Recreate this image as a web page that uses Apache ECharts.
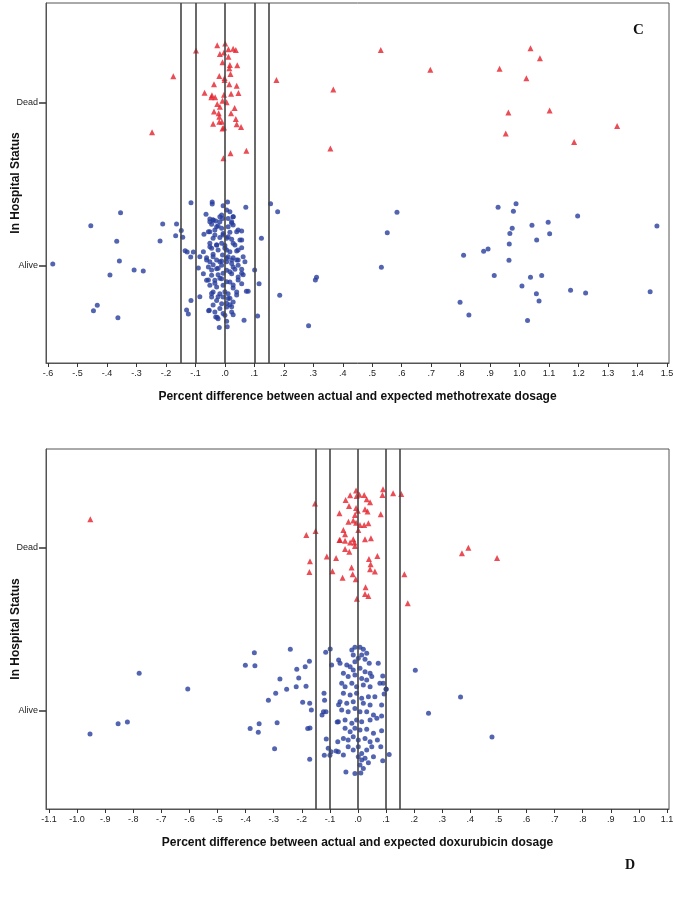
<!DOCTYPE html>
<html><head><meta charset="utf-8">
<script src="https://cdn.jsdelivr.net/npm/echarts@6/dist/echarts.min.js"></script>
<style>html,body{margin:0;padding:0;background:#fff}#c{width:674px;height:900px}</style>
</head><body><div id="c"></div>
<script>
// y values: Alive = 0, Dead = 1, plus the plotted vertical jitter
const categories = ['Alive', 'Dead'];
const topTicks = [-0.6,-0.5,-0.4,-0.3,-0.2,-0.1,0,0.1,0.2,0.3,0.4,0.5,0.6,0.7,0.8,0.9,1.0,1.1,1.2,1.3,1.4,1.5];
const bottomTicks = [-1.1,-1.0,-0.9,-0.8,-0.7,-0.6,-0.5,-0.4,-0.3,-0.2,-0.1,0,0.1,0.2,0.3,0.4,0.5,0.6,0.7,0.8,0.9,1.0,1.1];
const refLines = [-0.15,-0.1,0,0.1,0.15];
const topXTitle = 'Percent difference between actual and expected methotrexate dosage';
const bottomXTitle = 'Percent difference between actual and expected doxurubicin dosage';
const yTitle = 'In Hospital Status';

const topDead = [[-0.026,1.354],[0.001,1.364],[-0.098,1.321],[-0.017,1.30],[-0.003,1.31],[0.012,1.33],[0.028,1.333],[0.037,1.325],[0.012,1.284],[-0.008,1.25],[0.017,1.233],[0.042,1.231],[0.015,1.213],[0.019,1.178],[-0.019,1.166],[-0.001,1.153],[-0.001,1.141],[-0.175,1.164],[0.175,1.141],[0.368,1.082],[-0.037,1.115],[0.015,1.115],[0.040,1.106],[-0.069,1.063],[-0.044,1.047],[-0.046,1.035],[-0.033,1.035],[-0.003,1.051],[0.021,1.057],[0.046,1.061],[-0.008,1.014],[0.006,1.004],[-0.026,0.994],[-0.017,0.977],[0.033,0.969],[-0.037,0.947],[-0.021,0.937],[0.021,0.937],[-0.019,0.916],[0.037,0.902],[-0.019,0.885],[-0.010,0.885],[-0.040,0.873],[0.040,0.869],[-0.003,0.849],[0.055,0.853],[-0.008,0.843],[-0.247,0.820],[0.358,0.720],[0.073,0.707],[0.019,0.691],[-0.005,0.661],[0.529,1.325],[0.697,1.204],[0.932,1.209],[1.037,1.336],[1.069,1.274],[1.023,1.151],[0.962,0.941],[1.102,0.953],[1.331,0.859],[0.953,0.812],[1.185,0.761]];

const topAlive = [[-0.115,0.388],[-0.043,0.393],[-0.043,0.380],[0.009,0.393],[0.071,0.360],[0.155,0.382],[0.179,0.333],[-0.354,0.327],[-0.455,0.247],[-0.211,0.258],[-0.164,0.258],[-0.148,0.217],[-0.167,0.186],[-0.143,0.176],[-0.220,0.153],[-0.367,0.151],[0.124,0.170],[-0.135,0.094],[-0.128,0.086],[-0.107,0.086],[-0.116,0.055],[-0.358,0.031],[-0.584,0.012],[-0.308,-0.025],[-0.277,-0.031],[-0.390,-0.055],[0.101,-0.025],[0.116,-0.109],[0.311,-0.069],[0.307,-0.086],[0.186,-0.180],[-0.085,-0.188],[-0.115,-0.211],[-0.433,-0.241],[-0.446,-0.274],[-0.130,-0.270],[-0.124,-0.294],[-0.363,-0.317],[-0.055,-0.274],[0.065,-0.333],[0.111,-0.307],[0.284,-0.366],[-0.019,-0.378],[0.008,-0.372],[-0.026,-0.315],
[0.584,0.329],[0.551,0.204],[0.531,-0.008],[0.927,0.360],[0.988,0.382],[0.979,0.335],[1.197,0.307],[1.466,0.245],[1.097,0.268],[1.042,0.250],[0.975,0.231],[0.967,0.200],[1.102,0.198],[1.058,0.160],[0.965,0.135],[0.893,0.104],[0.878,0.090],[0.810,0.066],[0.964,0.035],[0.914,-0.059],[1.037,-0.069],[1.075,-0.059],[1.008,-0.123],[1.057,-0.170],[1.066,-0.215],[1.173,-0.149],[1.224,-0.166],[1.443,-0.158],[0.798,-0.223],[0.828,-0.301],[1.027,-0.335],
[-0.006,0.370],[0.006,0.344],[0.017,0.333],[-0.064,0.317],[-0.011,0.313],[0.028,0.302],[-0.051,0.288],[-0.040,0.282],[-0.031,0.276],[-0.017,0.272],[-0.008,0.292],[0.023,0.272],[-0.045,0.256],[-0.023,0.247],[0.011,0.241],[0.028,0.252],[-0.011,0.231],[-0.034,0.221],[-0.051,0.210],[0.045,0.221],[0.057,0.215],[0.017,0.207],[-0.071,0.194],[-0.006,0.190],[-0.017,0.174],[-0.040,0.170],[0.006,0.170],[0.023,0.164],[0.057,0.160],[-0.051,0.139],[-0.028,0.129],[-0.011,0.139],[0.000,0.125],[0.034,0.129],[0.057,0.112],[-0.045,0.109],[-0.023,0.098],[0.006,0.098],[-0.073,0.088],[0.017,0.088],[0.040,0.092],[-0.040,0.072],[-0.008,0.067],[-0.085,0.057],[-0.062,0.051],[0.011,0.057],[0.028,0.051],[0.062,0.057],[-0.028,0.037],[-0.011,0.031],[-0.051,0.026],[0.045,0.037],[0.068,0.026],[0.006,0.026],[0.023,0.037],
[-0.090,-0.012],[-0.056,-0.006],[-0.040,0.008],[-0.028,-0.017],[-0.011,0.004],[0.006,-0.026],[0.028,-0.006],[0.045,0.004],[0.057,-0.020],[-0.073,-0.047],[-0.045,-0.057],[-0.023,-0.053],[0.023,-0.047],[0.045,-0.067],[0.062,-0.053],[-0.062,-0.088],[-0.034,-0.088],[-0.011,-0.078],[0.017,-0.098],[0.057,-0.109],[-0.051,-0.118],[-0.028,-0.129],[-0.006,-0.118],[0.028,-0.135],[0.073,-0.155],[0.040,-0.160],[-0.040,-0.160],[-0.017,-0.170],[0.011,-0.170],[-0.045,-0.190],[-0.006,-0.190],[-0.028,-0.211],[0.011,-0.200],[0.028,-0.221],[0.017,-0.237],[-0.011,-0.231],[0.006,-0.252],[0.079,-0.155],[-0.053,-0.272],[-0.034,-0.282],[0.023,-0.282],[-0.006,-0.292],[0.028,-0.299],[-0.031,-0.313],[-0.023,-0.323],[0.000,-0.302],[0.006,-0.339],
[-0.051,0.272],[-0.040,0.282],[-0.028,0.241],[-0.017,0.302],[0.011,0.292],[0.023,0.262],[0.028,0.302],[-0.056,0.210],[-0.034,0.190],[-0.006,0.200],[0.011,0.180],[0.040,0.210],[0.051,0.160],[-0.051,0.118],[-0.028,0.129],[0.000,0.109],[0.028,0.139],[0.045,0.098],[-0.062,0.037],[-0.040,0.057],[-0.017,0.026],[0.006,0.047],[0.023,0.016],[0.040,0.037],[-0.045,-0.025],[-0.023,-0.014],[-0.006,-0.045],[0.017,-0.035],[0.034,-0.020],[0.057,-0.045],[-0.056,-0.086],[-0.034,-0.106],[-0.017,-0.075],[0.006,-0.096],[0.028,-0.117],[0.045,-0.086],[-0.045,-0.168],[-0.023,-0.188],[0.000,-0.158],[0.017,-0.198],[0.040,-0.178],[-0.040,-0.239],[-0.017,-0.260],[0.006,-0.229],[0.023,-0.250]];

const bottomDead = [[-0.953,1.176],[-0.153,1.272],[-0.151,1.104],[-0.184,1.080],[-0.171,0.918],[-0.173,0.853],[-0.111,0.947],[-0.078,0.939],[-0.091,0.857],[-0.066,1.213],[-0.066,1.049],[-0.055,0.818],[-0.023,0.880],[-0.019,0.839],[-0.008,0.808],[-0.007,1.352],[-0.005,1.319],[0.005,1.327],[-0.028,1.323],[0.022,1.325],[0.031,1.299],[0.043,1.280],[-0.044,1.294],[-0.032,1.258],[-0.007,1.245],[-0.001,1.229],[0.025,1.237],[0.034,1.223],[-0.011,1.202],[0.081,1.207],[0.089,1.360],[0.087,1.325],[0.125,1.336],[0.154,1.331],[-0.034,1.161],[-0.017,1.168],[-0.007,1.155],[0.007,1.141],[0.022,1.141],[0.037,1.151],[0.001,1.110],[-0.052,1.110],[-0.046,1.084],[-0.064,1.049],[-0.046,1.045],[-0.028,1.033],[-0.017,1.053],[-0.013,1.033],[0.025,1.053],[0.046,1.059],[-0.011,1.012],[-0.046,0.994],[-0.031,0.977],[0.039,0.933],[0.069,0.951],[0.045,0.900],[0.043,0.869],[0.060,0.855],[0.027,0.759],[0.025,0.718],[0.037,0.706],[-0.004,0.689],[0.165,0.839],[0.177,0.661],[0.393,1.002],[0.370,0.967],[0.495,0.939]];

const bottomAlive = [[-0.954,-0.141],[-0.854,-0.078],[-0.821,-0.067],[-0.779,0.231],[-0.606,0.135],[-0.401,0.280],[-0.367,0.278],[-0.369,0.358],[-0.241,0.379],[-0.384,-0.108],[-0.352,-0.078],[-0.355,-0.131],[-0.288,-0.072],[-0.297,-0.231],[-0.319,0.066],[-0.293,0.109],[-0.278,0.196],[-0.254,0.133],[-0.218,0.256],[-0.211,0.202],[-0.220,0.149],[-0.188,0.272],[-0.173,0.305],[-0.185,0.152],[-0.197,0.053],[-0.172,0.047],[-0.166,0.006],[-0.179,-0.108],[-0.171,-0.104],[-0.172,-0.296],[-0.115,0.360],[-0.099,0.380],[-0.094,0.282],[-0.121,0.109],[-0.119,0.066],[-0.128,-0.025],[-0.123,-0.004],[-0.114,-0.004],[-0.113,-0.172],[-0.106,-0.229],[-0.096,-0.250],[-0.100,-0.272],[-0.120,-0.272],[-0.072,-0.188],[-0.078,-0.245],[-0.074,-0.067],[-0.069,0.039],[-0.069,0.313],
[-0.022,0.374],[-0.011,0.391],[0.007,0.391],[0.019,0.379],[-0.017,0.344],[0.013,0.344],[0.031,0.354],[0.001,0.323],[0.025,0.317],[0.040,0.293],[-0.011,0.302],[-0.064,0.293],[-0.040,0.282],[-0.028,0.272],[-0.017,0.252],[0.007,0.262],[0.025,0.241],[0.043,0.231],[0.072,0.293],[-0.052,0.231],[-0.035,0.211],[-0.011,0.221],[0.013,0.200],[0.031,0.190],[0.049,0.211],[0.088,0.215],[0.090,0.170],[0.078,0.170],[-0.058,0.170],[-0.046,0.149],[-0.022,0.170],[-0.005,0.149],[0.019,0.160],[0.043,0.149],[0.100,0.133],[0.093,0.104],[-0.052,0.109],[-0.028,0.098],[-0.005,0.109],[0.013,0.078],[0.037,0.088],[0.060,0.088],[-0.064,0.057],[-0.040,0.047],[-0.017,0.057],[0.019,0.047],[0.043,0.037],[0.084,0.037],[-0.058,0.006],[-0.035,-0.004],[-0.011,0.016],[0.007,-0.004],[0.031,-0.004],[0.055,-0.025],[0.084,-0.031],[-0.070,-0.066],[-0.046,-0.055],[-0.022,-0.075],[-0.005,-0.055],[0.013,-0.066],[0.043,-0.055],[0.067,-0.045],[-0.046,-0.106],[-0.028,-0.127],[-0.011,-0.106],[0.007,-0.117],[0.031,-0.112],[0.055,-0.137],[0.084,-0.121],[-0.052,-0.168],[-0.035,-0.178],[-0.017,-0.158],[0.001,-0.178],[0.025,-0.168],[0.043,-0.188],[0.069,-0.178],[-0.035,-0.219],[-0.017,-0.239],[0.001,-0.219],[0.013,-0.260],[0.031,-0.239],[0.049,-0.219],[0.081,-0.219],[0.001,-0.280],[0.013,-0.301],[0.025,-0.290],[0.037,-0.317],[0.007,-0.331],[0.019,-0.352],[0.010,-0.380],[0.055,-0.280],[0.088,-0.305],[0.111,-0.266],[-0.043,-0.374],[-0.011,-0.384],[-0.070,-0.250],[-0.052,-0.270],[0.100,0.135],
[0.204,0.250],[0.365,0.086],[0.251,-0.014],[0.477,-0.160]];

function fmtTick(v) {
  if (Math.abs(v) < 1e-9) return '.0';
  let s = Math.abs(v).toFixed(1);
  if (s.startsWith('0.')) s = s.slice(1);
  return (v < 0 ? '-' : '') + s;
}
const FONT = 'Arial, "Liberation Sans", sans-serif';
const RED = '#e5202a', BLUE = '#283d9c', LINE = '#444';

function xAxisFor(idx, min, max, ticks, title) {
  return {
    gridIndex: idx, type: 'value', min: min, max: max,
    splitLine: { show: false },
    axisLine: { show: true, onZero: false, lineStyle: { color: '#555', width: 1 } },
    axisTick: { show: true, length: 4, inside: false, customValues: ticks, lineStyle: { color: '#333' } },
    axisLabel: { customValues: ticks, formatter: fmtTick, fontSize: 9, color: '#222', margin: 6, fontFamily: FONT },
    name: title, nameLocation: 'middle', nameGap: 28,
    nameTextStyle: { fontSize: 12, fontWeight: 'bold', color: '#111', fontFamily: FONT }
  };
}
function yAxisFor(idx, min, max) {
  return {
    gridIndex: idx, type: 'value', min: min, max: max,
    splitLine: { show: false },
    axisLine: { show: true, onZero: false, lineStyle: { color: '#555', width: 1 } },
    axisTick: { show: true, length: 7, customValues: [0, 1], lineStyle: { color: '#333', width: 1.5 } },
    axisLabel: { customValues: [0, 1], formatter: v => categories[Math.round(v)], fontSize: 9, color: '#222', margin: 8, fontFamily: FONT }
  };
}
function yTitleText(cy) {
  return {
    type: 'text', x: 16, y: cy, rotation: Math.PI / 2,
    style: { text: yTitle, font: 'bold 12px Arial, "Liberation Sans", sans-serif', fill: '#111', align: 'center', verticalAlign: 'middle' }
  };
}
function ml() {
  return {
    silent: true, symbol: 'none', label: { show: false },
    lineStyle: { color: LINE, width: 1.6, type: 'solid' },
    data: refLines.map(v => ({ xAxis: v }))
  };
}
const option = {
  animation: false,
  backgroundColor: '#fff',
  grid: [
    { left: 46, right: 5, top: 3, height: 360, show: true, borderColor: '#555', borderWidth: 1, containLabel: false, outerBoundsMode: 'none' },
    { left: 46, right: 5, top: 449, height: 360, show: true, borderColor: '#555', borderWidth: 1, containLabel: false, outerBoundsMode: 'none' }
  ],
  xAxis: [xAxisFor(0, -0.607, 1.507, topTicks, topXTitle), xAxisFor(1, -1.1107, 1.1071, bottomTicks, bottomXTitle)],
  yAxis: [yAxisFor(0, -0.595, 1.613), yAxisFor(1, -0.601, 1.607)],
  graphic: [
    yTitleText(183),
    yTitleText(629),
    { type: 'text', left: 633, top: 23, style: { text: 'C', font: 'bold 15px "Liberation Serif", "DejaVu Serif", serif', fill: '#111' } },
    { type: 'text', left: 625, top: 858, style: { text: 'D', font: 'bold 14px "Liberation Serif", "DejaVu Serif", serif', fill: '#111' } }
  ],
  series: [
    { type: 'scatter', xAxisIndex: 0, yAxisIndex: 0, data: topAlive, symbol: 'circle', symbolSize: 5, itemStyle: { color: BLUE }, markLine: ml(), z: 3 },
    { type: 'scatter', xAxisIndex: 0, yAxisIndex: 0, data: topDead, symbol: 'triangle', symbolSize: 6, itemStyle: { color: RED }, z: 3 },
    { type: 'scatter', xAxisIndex: 1, yAxisIndex: 1, data: bottomAlive, symbol: 'circle', symbolSize: 5, itemStyle: { color: BLUE }, markLine: ml(), z: 3 },
    { type: 'scatter', xAxisIndex: 1, yAxisIndex: 1, data: bottomDead, symbol: 'triangle', symbolSize: 6, itemStyle: { color: RED }, z: 3 }
  ]
};
const chart = echarts.init(document.getElementById('c'), null, { renderer: 'canvas' });
chart.setOption(option);
</script>
</body></html>
